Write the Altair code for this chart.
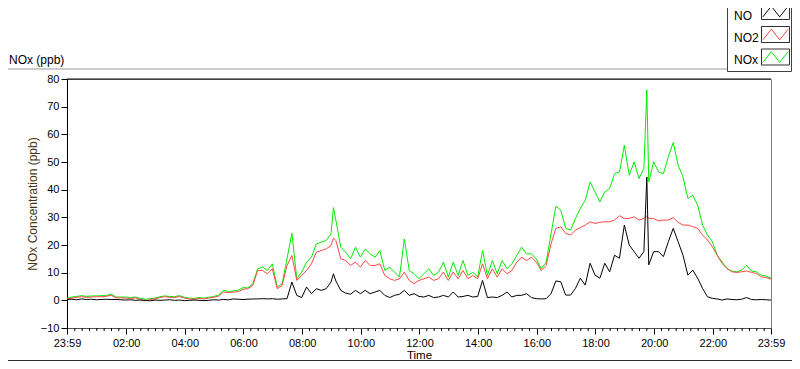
import altair as alt
import pandas as pd

FONT = "Liberation Sans"

# minutes after 23:59 (start of the record)
minutes = (list(range(0, 541, 10)) + [545] + list(range(550, 1181, 10)) + [1186]
           + list(range(1190, 1441, 10)))

nox = [0.8, 1.2, 1.4, 1.7, 1.4, 1.6, 1.6, 1.7, 1.7, 2.3, 1.2, 1.2, 1.2, 1.0, 1.2, 0.7, 0.4, 0.6, 0.8, 1.3,
       1.6, 1.4, 1.3, 1.7, 1.1, 0.8, 0.7, 1.0, 0.8, 1.1, 1.4, 1.9, 3.6, 3.2, 3.4, 3.6, 4.6,
       4.5, 6, 11.4, 12, 10.8, 13.2, 4.8, 6, 15, 24.3, 7.8, 10.2, 13.8, 15.6, 20.4, 21, 21.6, 24,
       33.5,
       28.9, 19.2, 17.4, 15, 19.2, 15.6, 18.6, 16.8, 15.6, 18, 10.8, 12, 10.2, 8.4, 22.2, 10.8, 9.6, 7.8,
       9.6, 11.4, 9, 10.2, 13.8, 8.4, 13.8, 9, 14.4, 9, 10.2, 8.4, 18, 9, 14.4, 9.6, 14.4, 11.4, 13.2,
       16.2, 19.2, 16.8, 16.8, 15, 11.4, 13.8, 24, 34,
       32.6, 26, 25.4, 29.6, 33.2, 36.2, 42.8, 39.2, 35.6, 39.2, 40.4, 45.8, 46.4, 56, 45.2, 50.1, 44, 47.7,
       76,
       42.8, 50.1,
       46.4, 45.8, 51.9, 57, 48.9, 44.6, 36.8, 38, 34.4, 27.2, 23.6, 21.2, 16.3, 13.9, 11.5, 10.6, 10.3,
       10.9, 12.7, 10.6, 10.3, 9.1, 8.8, 8]

no2 = [0.5, 0.8, 1.1, 1.3, 1.1, 1.2, 1.3, 1.3, 1.4, 1.9, 0.9, 0.9, 0.8, 0.7, 0.9, 0.3, -0.2, 0.3, 0.5, 1.0,
       1.3, 1.1, 1.0, 1.4, 0.8, 0.5, 0.4, 0.7, 0.5, 0.8, 1.1, 1.5, 3.0, 2.8, 3.0, 3.1, 4.0,
       4.2, 5.4, 10.8, 10.8, 9.6, 11.4, 4.2, 5.4, 12.6, 16.2, 7.2, 9, 10.8, 13.2, 17.4, 18, 18.6, 19.8,
       22.5,
       21.6, 15, 14.4, 12.6, 13.8, 12, 14.4, 12.6, 12.6, 13.2, 9, 7.8, 7.2, 7.8, 10.2, 7.2, 6, 7.2,
       7.8, 8.4, 7.2, 7.8, 10.2, 7.2, 10.2, 7.8, 10.8, 7.8, 9, 7.8, 13.2, 7.8, 11.4, 8.4, 11.4, 9.6, 10.8,
       13.8, 15.6, 14.4, 15.6, 13.8, 10.8, 12.6, 20.4, 26,
       26.6, 24.2, 23.6, 25.4, 26.3, 27.2, 28.4, 27.8, 28.2, 28.4, 28.4, 29, 30.6, 29.6, 29.6, 30.2, 29, 29.6,
       30.5,
       29.6, 29.6,
       28.7, 29, 29, 29.9, 28.2, 27.2, 27.2, 26.6, 26, 23.6, 21.8, 19.4, 16.3, 13.3, 11.5, 10.3, 10.1,
       10.3, 10.6, 10.1, 9.7, 8.5, 8.2, 7.7]

no = [0.3, 0.4, 0.2, 0.5, 0.3, 0.4, 0.2, 0.3, 0.4, 0.3, 0.3, 0.2, 0.1, 0.2, 0.0, 0.1, 0.0, -0.2, 0.1, 0.0,
      0.1, 0.2, 0.0, 0.1, -0.1, 0.0, 0.1, 0.0, -0.1, 0.0, 0.2, 0.1, 0.3, 0.2, 0.5, 0.4, 0.3,
      0.4, 0.5, 0.5, 0.6, 0.5, 0.6, 0.4, 0.5, 0.6, 6.6, 1.8, 1, 4.8, 2.4, 4.2, 3.6, 4.2, 6.6,
      9.6,
      7, 3.6, 2.6, 2.2, 3.6, 2.4, 3.6, 2.4, 3, 3.6, 1.8, 1, 1.8, 2.2, 3.6, 1.8, 2.4, 1.4,
      1.2, 1.8, 1, 1.2, 1.8, 1.2, 3, 1.2, 1.4, 1.8, 1.2, 1.4, 7.2, 1, 1.2, 1, 1.8, 3, 1.2,
      1.8, 1.8, 2.4, 1, 0.6, 0.5, 0.6, 2.4, 7,
      6.7, 1.9, 1.9, 4.3, 8, 5.5, 13.4, 9.1, 8, 13.4, 10.3, 16.3, 15.2, 27.2, 20, 17.6, 15.2, 17.6,
      44.6,
      12.8, 17.6,
      17.6, 15.8, 21.2, 26, 21.2, 16.3, 9.1, 10.9, 8, 4.3, 1.3, 0.7, 0.5, 0.1, 0.5, 0.3, 0.2,
      0.4, 1.0, 0.3, 0.2, 0.3, 0.2, 0.1]

x_tick_values = [0, 121, 241, 361, 481, 601, 721, 841, 961, 1081, 1201, 1321, 1440]
x_tick_labels = ["23:59", "02:00", "04:00", "06:00", "08:00", "10:00", "12:00",
                 "14:00", "16:00", "18:00", "20:00", "22:00", "23:59"]
minor_ticks = [1 + 15 * k for k in range(1, 96) if (15 * k) % 120 != 0]
y_tick_values = [-10, 0, 10, 20, 30, 40, 50, 60, 70, 80]

legend_names = ["NO", "NO2", "NOx"]
legend_colors = ["#000000", "#ff4545", "#00ee00"]

df = pd.DataFrame({"t": minutes, "NOx": nox, "NO2": no2, "NO": no})

W, H = 704, 249
x_scale = alt.Scale(domain=[0, 1440], nice=False, zero=False)
y_scale = alt.Scale(domain=[-10, 80], nice=False, zero=False)

label_expr = ""
for v, lab in zip(x_tick_values, x_tick_labels):
    label_expr += f"datum.value == {v} ? '{lab}' : "
label_expr += "''"

x_axis = alt.Axis(values=x_tick_values, labelExpr=label_expr, title="Time", tickSize=6,
                  tickColor="black", domainColor="#505050", labelFontSize=11, labelPadding=3,
                  labelFlush=False, labelOverlap=False, grid=False, titleFontSize=11.5,
                  titleFontWeight="normal", titleY=30.5, titleBaseline="alphabetic")
y_axis = alt.Axis(values=y_tick_values, title="NOx Concentration (ppb)", tickSize=6, tickColor="black",
                  domainColor="black", labelFontSize=11, labelPadding=2, grid=False,
                  titleFontSize=12, titleFontWeight="normal", titleX=-31, titleY=H / 2,
                  titleAngle=270, titleAlign="center", titleBaseline="alphabetic",
                  titleColor="#4a3510")

base = alt.Chart(df)
line_nox = base.mark_line(color=legend_colors[2], strokeWidth=1, clip=True).encode(
    x=alt.X("t:Q", scale=x_scale, axis=x_axis),
    y=alt.Y("NOx:Q", scale=y_scale, axis=y_axis))
line_no2 = base.mark_line(color=legend_colors[1], strokeWidth=1, clip=True).encode(
    x=alt.X("t:Q", scale=x_scale, axis=x_axis),
    y=alt.Y("NO2:Q", scale=y_scale, axis=y_axis))
line_no = base.mark_line(color=legend_colors[0], strokeWidth=1, clip=True).encode(
    x=alt.X("t:Q", scale=x_scale, axis=x_axis),
    y=alt.Y("NO:Q", scale=y_scale, axis=y_axis))

minor = alt.Chart(pd.DataFrame({"t": minor_ticks})).mark_rule(color="black", strokeWidth=1).encode(
    x=alt.X("t:Q", scale=x_scale, axis=x_axis), y=alt.value(H), y2=alt.value(H + 3))

one = pd.DataFrame({"a": [0]})
top_border = alt.Chart(one).mark_rule(color="black").encode(
    x=alt.value(0), x2=alt.value(W), y=alt.value(0))
frame_top = alt.Chart(one).mark_rule(color="#9a9a9a").encode(
    x=alt.value(-59), x2=alt.value(660), y=alt.value(-10))
frame_bottom = alt.Chart(one).mark_rule(color="#303030").encode(
    x=alt.value(-59), x2=alt.value(725), y=alt.value(281.5))
legend_box = alt.Chart(one).mark_rect(fill="white", stroke="#404040", strokeWidth=1).encode(
    x=alt.value(660.5), x2=alt.value(724.5), y=alt.value(-85), y2=alt.value(-7.5))
title_text = alt.Chart(one).mark_text(text="NOx (ppb)", align="left", baseline="alphabetic",
                                      fontSize=12, font=FONT, color="black").encode(
    x=alt.value(-58), y=alt.value(-15.5))

ZIGZAG = "M-0.9,0.38L-0.3,-0.38L0.3,0.38L0.9,-0.38"
legend_text_y = [-63.5, -41.5, -19.5]
legend_box_y = [-67.5, -44.5, -22]
legend_layers = []
for name, col, ty, bc in zip(legend_names, legend_colors, legend_text_y, legend_box_y):
    legend_layers.append(alt.Chart(one).mark_text(text=name, align="left", baseline="middle",
                                                  fontSize=12, font=FONT, color="black").encode(
        x=alt.value(667), y=alt.value(ty)))
    legend_layers.append(alt.Chart(one).mark_rect(fill="white", stroke="#303030", strokeWidth=1).encode(
        x=alt.value(694.5), x2=alt.value(722.5), y=alt.value(bc - 8), y2=alt.value(bc + 8)))
    legend_layers.append(alt.Chart(one).mark_point(shape=ZIGZAG, size=784, filled=False, stroke=col,
                                                   strokeWidth=1, opacity=1).encode(
        x=alt.value(708.5), y=alt.value(bc)))

chart = alt.layer(line_nox, line_no2, line_no, minor, top_border, frame_top, frame_bottom,
                  legend_box, title_text, *legend_layers).properties(
    width=W, height=H,
    autosize=alt.AutoSizeParams(type="none"),
    padding={"left": 59, "top": 71, "right": 21, "bottom": 33},
    background="white",
).configure_view(stroke="#808080", strokeWidth=1).configure_axis(
    labelFont=FONT, titleFont=FONT, labelColor="black", titleColor="black")

chart.save("out.html", embed_options={"renderer": "svg", "actions": False})
